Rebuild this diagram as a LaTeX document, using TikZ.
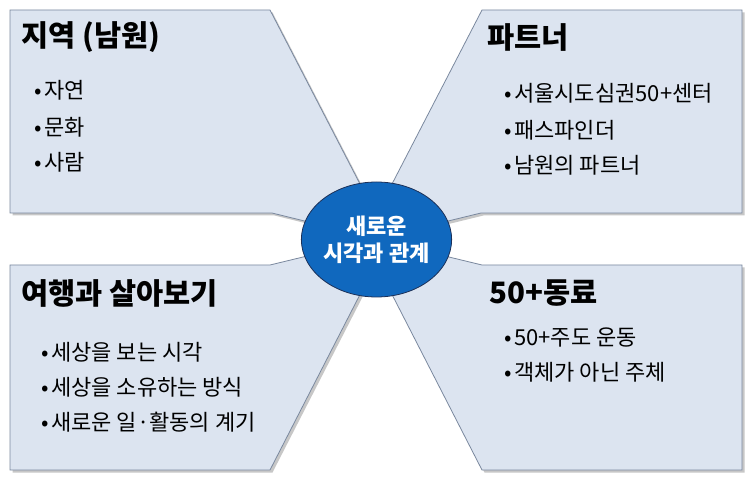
\documentclass[tikz,border=0pt]{standalone}
\usepackage{fontspec}
\setmainfont{Noto Sans CJK KR}
\usetikzlibrary{shapes.geometric}
\definecolor{panelfill}{RGB}{220,228,240}
\definecolor{panelline}{RGB}{122,136,158}
\definecolor{hubfill}{RGB}{16,104,190}
\definecolor{hubline}{RGB}{28,48,88}
\newcommand{\bul}{\raisebox{0pt}{•}\hspace{2.5pt}}
\begin{document}
\begin{tikzpicture}[x=1pt,y=-1pt,
  panel/.style={fill=panelfill,draw=panelline,line width=0.8pt,line join=miter},
  shade/.style={fill=black!22,draw=none},
  title/.style={anchor=west,inner sep=0pt,font=\fontsize{29.5}{34}\selectfont\bfseries},
  item/.style={anchor=west,inner sep=0pt,font=\fontsize{22}{26}\selectfont},
  hub/.style={ellipse,fill=hubfill,draw=hubline,line width=0.8pt,minimum width=141pt,minimum height=115pt,inner sep=0pt,
    text=white,align=center,font=\fontsize{22}{27}\selectfont\bfseries}]
\useasboundingbox[fill=white] (0,0) rectangle (750,478);
% shadows
\fill[shade,shift={(2.5,2.5)}] (10,10)--(270,10)--(390,242)--(272,213)--(10,213)--cycle;
\fill[shade,shift={(2.5,2.5)}] (742,10)--(482,10)--(362,242)--(481,213)--(742,213)--cycle;
\fill[shade,shift={(2.5,2.5)}] (10,265)--(270,265)--(390,236)--(270,470)--(10,470)--cycle;
\fill[shade,shift={(2.5,2.5)}] (742,265)--(482,265)--(362,236)--(482,470)--(742,470)--cycle;
% panels
\draw[panel] (10,10)--(270,10)--(390,242)--(272,213)--(10,213)--cycle;
\draw[panel] (742,10)--(482,10)--(362,242)--(481,213)--(742,213)--cycle;
\draw[panel] (10,265)--(270,265)--(390,236)--(270,470)--(10,470)--cycle;
\draw[panel] (742,265)--(482,265)--(362,236)--(482,470)--(742,470)--cycle;
% hub
\node[hub] (hub) at (376.5,239.5) {새로운\\시각과 관계};
% panel 1
\node[title] (t1) at (21,37) {지역 (남원)};
\node[item] (a1) at (34,90) {\bul 자연};
\node[item] (a2) at (34,127) {\bul 문화};
\node[item] (a3) at (34,162) {\bul 사람};
% panel 2
\node[title] (t2) at (487,37) {파트너};
\node[item] (b1) at (504,93) {\bul 서울시도심권50+센터};
\node[item] (b2) at (504,130) {\bul 패스파인더};
\node[item] (b3) at (504,165) {\bul 남원의 파트너};
% panel 3
\node[title] (t3) at (21,293) {여행과 살아보기};
\node[item] (c1) at (41,352) {\bul 세상을 보는 시각};
\node[item] (c2) at (41,387) {\bul 세상을 소유하는 방식};
\node[item] (c3) at (41,422) {\bul 새로운 일·활동의 계기};
% panel 4
\node[title] (t4) at (489,293) {50+동료};
\node[item] (d1) at (504,338) {\bul 50+주도 운동};
\node[item] (d2) at (504,372) {\bul 객체가 아닌 주체};
\end{tikzpicture}
\end{document}
